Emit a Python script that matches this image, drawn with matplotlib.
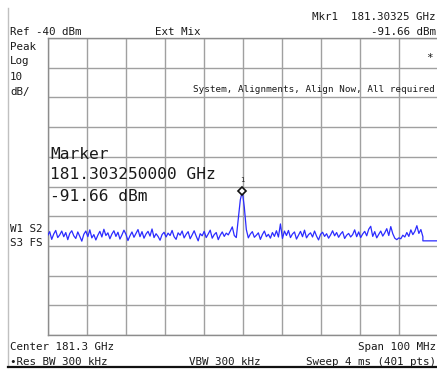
import numpy as np
import matplotlib
matplotlib.use("Agg")
import matplotlib.pyplot as plt
from matplotlib.lines import Line2D

# ---------------- data ----------------
ref_level_dbm = -40
db_per_div = 10
center_ghz = 181.3
span_ghz = 0.1
trace_start_ghz = 181.25
trace_stop_ghz = 181.3462
trace_dbm = [
    -106.5, -105.2, -107.8, -106.0, -104.8, -107.2, -106.3, -105.0, -106.9, -105.5,
    -107.9, -105.8, -104.9, -106.6, -107.5, -105.3, -106.8, -108.4, -106.1, -105.0,
    -106.9, -104.6, -107.3, -106.2, -108.0, -106.4, -105.1, -107.0, -104.4, -106.5,
    -105.6, -107.6, -106.0, -104.9, -106.8, -105.4, -107.7, -106.3, -104.7, -106.1,
    -108.2, -106.6, -105.3, -107.1, -105.8, -104.5, -106.9, -105.2, -107.4, -106.0,
    -105.1, -106.7, -104.3, -107.2, -105.9, -106.8, -108.1, -106.2, -105.4, -107.0,
    -105.7, -106.5, -104.8, -106.9, -107.8, -105.6, -106.4, -105.0, -107.3, -106.1,
    -105.2, -107.6, -106.3, -104.9, -106.7, -108.3, -105.9, -106.6, -105.1, -107.2,
    -106.0, -104.7, -107.4, -106.2, -105.5, -107.9, -106.4, -105.3, -106.8, -105.7,
    -106.3, -105.0, -103.6, -106.5, -107.2, -101.0, -94.5, -91.66, -97.0, -104.5,
    -107.3, -106.0, -105.2, -107.1, -106.4, -105.6, -107.8, -106.2, -105.0, -106.9,
    -106.1, -107.4, -105.5, -106.8, -104.9, -107.0, -102.6, -107.5, -105.0, -106.5,
    -104.8, -107.2, -106.0, -105.3, -107.7, -106.4, -105.1, -106.9, -104.7, -107.3,
    -106.2, -105.6, -107.0, -105.0, -106.7, -108.0, -106.1, -105.4, -106.8, -105.9,
    -107.4, -106.3, -104.9, -106.6, -105.5, -107.1, -106.0, -105.2, -107.5, -106.4,
    -105.8, -107.0, -106.2, -104.6, -106.9, -105.3, -107.2, -106.0, -105.1, -106.6,
    -104.4, -103.4, -106.8, -105.2, -107.3, -106.1, -105.0, -106.7, -105.6, -104.2,
    -106.5, -103.5, -105.9, -107.4, -107.9, -107.3, -107.6, -106.4, -107.0, -105.5,
    -106.8, -104.6, -106.2, -105.1, -103.2, -105.8, -104.5, -106.9,
]
tail_ghz = [181.3462, 181.35]
tail_dbm = [-108.3, -108.3]
marker_ghz = 181.2999
marker_dbm = -91.66

# ---------------- figure ----------------
W, H = 437, 369
fig = plt.figure(figsize=(W / 100, H / 100), dpi=100)
fig.patch.set_facecolor("white")

def fx(px):
    return px / W

def fy(py):
    return 1 - py / H

left_px, right_px, top_px, bot_px = 47.7, 437.7, 38.0, 335.0
ax = fig.add_axes([fx(left_px), fy(bot_px), (right_px - left_px) / W, (bot_px - top_px) / H])
ax.set_facecolor("white")
ax.set_xlim(center_ghz - span_ghz / 2, center_ghz + span_ghz / 2)
ax.set_ylim(ref_level_dbm - 10 * db_per_div, ref_level_dbm)
ax.set_xticks(np.linspace(center_ghz - span_ghz / 2, center_ghz + span_ghz / 2, 11))
ax.set_yticks(np.arange(ref_level_dbm - 10 * db_per_div, ref_level_dbm + 1, db_per_div))
ax.tick_params(length=0, labelbottom=False, labelleft=False)
ax.grid(True, color="#a0a0a0", lw=1.0)
for s in ax.spines.values():
    s.set_color("#8c8c8c")
    s.set_linewidth(1.0)

freqs = np.linspace(trace_start_ghz, trace_stop_ghz, len(trace_dbm))
all_f = np.concatenate([freqs, tail_ghz])
all_d = np.concatenate([trace_dbm, tail_dbm])
ax.plot(all_f, all_d, color="#2b2bff", lw=0.9, zorder=3, clip_on=True)

ax.plot([marker_ghz], [marker_dbm], marker="D", ms=4.5, mfc="white", mec="#111111",
        mew=1.2, zorder=4, clip_on=False)
ax.annotate("1", (marker_ghz, marker_dbm), xytext=(0, 6), textcoords="offset points",
            ha="center", va="bottom", fontsize=5, family="DejaVu Sans Mono", color="#222")

mono = "DejaVu Sans Mono"
small = 7.8
tc = "#1a1a1a"

def t(x, y, s, size=small, ha="left", **kw):
    fig.text(fx(x), fy(y), s, fontsize=size, family=mono, ha=ha, va="baseline", color=tc, **kw)

t(10, 35, "Ref -40 dBm")
t(155, 35, "Ext Mix")
t(436, 20, "Mkr1  181.30325 GHz", ha="right")
t(436, 35, "-91.66 dBm", ha="right")
t(10, 50, "Peak")
t(10, 64, "Log")
t(10, 80, "10")
t(10, 95, "dB/")
t(426, 61, "*")
t(435, 92, "System, Alignments, Align Now, All required", size=6.7, ha="right")
t(10, 232, "W1 S2")
t(10, 246, "S3 FS")
t(10, 350, "Center 181.3 GHz")
t(10, 365, "\u2022Res BW 300 kHz")
t(189, 365, "VBW 300 kHz")
t(436, 350, "Span 100 MHz", ha="right")
t(436, 365, "Sweep 4 ms (401 pts)", ha="right")

big = 11.7
t(50, 159, "Marker", size=big)
t(50, 179, "181.303250000 GHz", size=big)
t(50, 201, "-91.66 dBm", size=big)

# screen border lines
fig.add_artist(Line2D([fx(8), fx(8)], [fy(8), fy(367)], color="#c0c0c0", lw=1.0))
fig.add_artist(Line2D([fx(8), fx(437)], [fy(367), fy(367)], color="#111111", lw=1.6))

fig.savefig("out.png", dpi=100, facecolor="white")
